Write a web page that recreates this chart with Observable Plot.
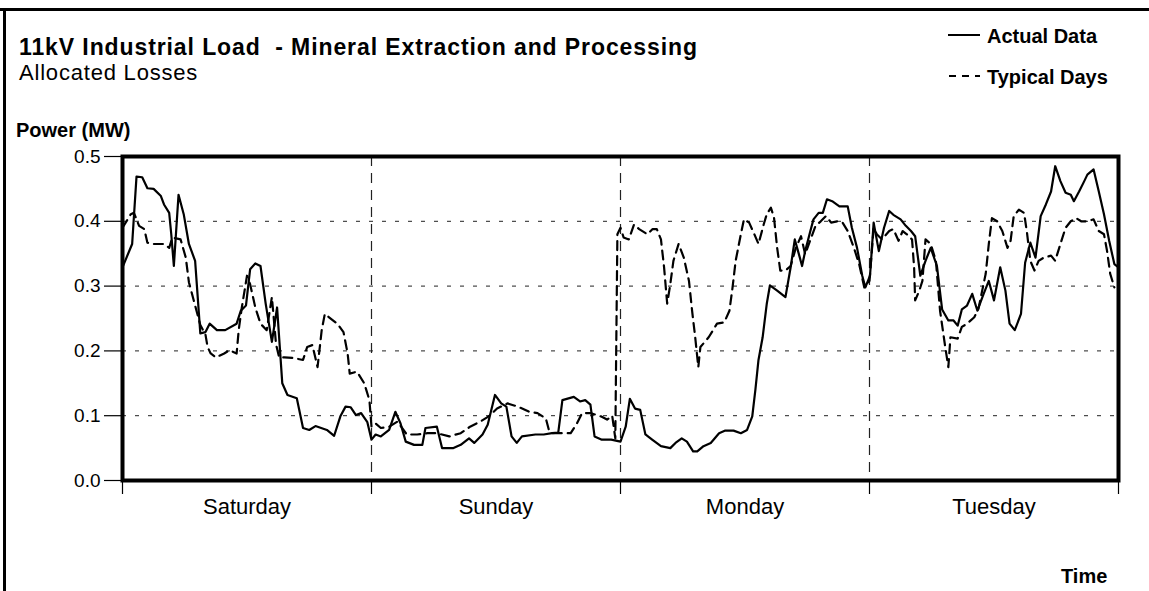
<!DOCTYPE html>
<html>
<head>
<meta charset="utf-8">
<script src="https://cdn.jsdelivr.net/npm/d3@7"></script>
<script src="https://cdn.jsdelivr.net/npm/@observablehq/plot@0.6"></script>
<style>
  body { margin: 0; background: #fff; }
  #wrap { position: relative; width: 1149px; height: 591px; background: #fff; overflow: hidden;
          font-family: "Liberation Sans", Arial, Helvetica, sans-serif; color: #000; }
  .t { position: absolute; white-space: pre; line-height: 1; }
  #chart { position: absolute; left: 0; top: 0; }
</style>
</head>
<body>
<div id="wrap">
  <div id="chart"></div>
  <div style="position:absolute;left:0;top:8px;width:1149px;height:3px;background:#000"></div>
  <div style="position:absolute;left:3px;top:8px;width:3px;height:583px;background:#000"></div>
  <div class="t" style="left:19px;top:36px;font-size:23px;font-weight:bold;letter-spacing:0.9px">11kV Industrial Load  - Mineral Extraction and Processing</div>
  <div class="t" style="left:19px;top:62px;font-size:22px;letter-spacing:0.8px">Allocated Losses</div>
  <div class="t" style="left:16px;top:120px;font-size:20px;font-weight:bold;">Power (MW)</div>
  <svg style="position:absolute;left:940px;top:20px" width="50" height="70">
    <line x1="8" x2="40" y1="15" y2="15" stroke="#000" stroke-width="2"/>
    <line x1="9" x2="40" y1="56" y2="56" stroke="#000" stroke-width="2" stroke-dasharray="7,6"/>
  </svg>
  <div class="t" style="left:987px;top:26px;font-size:20px;font-weight:bold;">Actual Data</div>
  <div class="t" style="left:987px;top:67px;font-size:20px;font-weight:bold;">Typical Days</div>
  <div class="t" style="left:1061px;top:566px;font-size:20px;font-weight:bold;">Time</div>
</div>
<script>
// Hours from Saturday 00:00
const actualHours = [0,0.93,1.35,1.9,2.4,3.0,3.7,4.0,4.5,4.7,4.95,5.4,5.9,6.4,7.0,7.5,8.0,8.4,9.1,9.9,11.0,11.4,11.9,12.3,12.8,13.3,13.8,14.4,14.9,15.4,15.9,16.8,17.4,18.0,18.6,19.7,20.4,21.0,21.5,22.0,22.5,23.0,23.6,24.0,24.4,24.9,25.7,26.3,26.8,27.3,28.1,28.9,29.2,30.3,30.8,31.9,32.6,33.4,33.9,34.7,35.2,35.9,36.5,37.0,37.5,38.0,38.5,39.8,40.6,41.4,42.0,42.4,43.5,44.1,44.6,45.1,45.5,46.2,47.1,48.0,48.5,48.9,49.4,49.9,50.4,51.05,51.9,52.8,53.3,53.9,54.4,55.0,55.4,56.0,56.7,57.5,58.1,58.9,59.6,60.2,60.7,61.0,61.3,61.7,62.1,62.4,63.1,63.9,64.4,64.8,65.2,65.5,65.8,66.3,66.6,67.1,67.5,67.9,68.4,69.1,69.9,70.3,70.8,71.3,71.6,72.05,72.4,72.9,73.4,73.9,74.3,75.0,75.5,76.0,76.4,76.9,77.4,77.9,78.5,79.0,79.6,80.1,80.5,80.9,81.4,81.9,82.4,83.0,83.5,84.0,84.6,85.1,85.5,86.0,86.6,87.0,87.5,88.0,88.5,89.0,89.5,89.9,90.4,90.9,91.4,91.7,92.2,92.7,93.0,93.6,94.1,94.6,95.1,95.6,96.0];
const actualMW = [0.329,0.365,0.469,0.468,0.451,0.450,0.439,0.426,0.413,0.38,0.331,0.441,0.411,0.365,0.339,0.227,0.229,0.242,0.232,0.232,0.242,0.262,0.270,0.326,0.335,0.331,0.273,0.214,0.267,0.150,0.132,0.127,0.081,0.078,0.084,0.078,0.069,0.099,0.114,0.113,0.101,0.104,0.090,0.063,0.071,0.068,0.078,0.106,0.088,0.060,0.055,0.055,0.081,0.083,0.050,0.050,0.055,0.065,0.058,0.071,0.086,0.132,0.119,0.114,0.068,0.058,0.068,0.071,0.071,0.073,0.074,0.124,0.129,0.122,0.124,0.117,0.068,0.063,0.063,0.060,0.083,0.126,0.111,0.109,0.071,0.063,0.053,0.050,0.058,0.065,0.060,0.045,0.045,0.053,0.058,0.073,0.077,0.077,0.073,0.078,0.099,0.140,0.186,0.221,0.273,0.301,0.293,0.283,0.329,0.372,0.349,0.331,0.354,0.385,0.403,0.413,0.413,0.434,0.431,0.423,0.423,0.390,0.359,0.316,0.298,0.316,0.398,0.354,0.390,0.416,0.410,0.403,0.393,0.385,0.377,0.316,0.339,0.359,0.331,0.264,0.247,0.247,0.239,0.264,0.270,0.288,0.262,0.288,0.308,0.278,0.329,0.293,0.242,0.232,0.257,0.336,0.367,0.344,0.408,0.426,0.446,0.485,0.462,0.444,0.441,0.431,0.446,0.462,0.472,0.480,0.446,0.411,0.370,0.334,0.329];

const typicalHours = [0,0.8,1.1,1.6,2.1,2.4,3.0,4.0,4.5,4.8,5.6,6.1,6.4,7.5,8.0,8.2,8.5,9.0,9.8,10.3,11.0,11.2,11.5,12.0,12.3,12.8,13.3,13.9,14.4,14.8,15.1,15.6,16.5,17.4,17.8,18.3,18.8,19.2,19.5,20.7,21.3,21.7,21.9,22.6,23.3,23.8,24.0,24.4,24.9,25.7,26.5,27.4,28.4,29.4,30.3,31.5,32.6,33.5,34.5,35.3,36.1,37.1,38.1,39.2,40.0,40.8,41.1,41.4,42.2,43.2,43.8,44.3,45.1,46.1,46.7,47.2,47.5,47.7,48.0,48.3,48.8,49.3,49.8,50.6,51.1,51.5,51.9,52.2,52.5,52.8,53.1,53.6,54.1,54.6,54.9,55.2,55.5,55.7,56.5,57.3,58.0,58.5,58.8,59.1,59.6,59.9,60.4,60.9,61.3,61.8,62.1,62.5,62.8,63.1,63.4,63.9,64.4,64.9,65.4,65.8,66.5,66.8,67.3,67.8,68.3,68.9,69.4,69.9,70.5,71.0,71.5,72.0,72.4,72.7,73.2,73.9,74.3,74.8,75.2,75.6,76.1,76.3,76.4,76.8,77.1,77.4,77.9,78.4,78.8,79.3,79.6,79.8,80.5,80.9,81.4,82.1,82.5,83.2,83.5,83.8,84.3,84.8,85.3,85.6,85.9,86.4,86.9,87.2,87.5,87.9,88.3,88.8,89.5,89.9,90.4,90.9,91.4,91.9,92.4,93.0,93.6,94.1,94.6,94.9,95.2,95.6];
const typicalMW = [0.390,0.411,0.413,0.393,0.388,0.367,0.365,0.365,0.359,0.375,0.372,0.344,0.306,0.240,0.225,0.206,0.196,0.190,0.196,0.201,0.196,0.232,0.267,0.316,0.303,0.267,0.242,0.232,0.283,0.210,0.190,0.190,0.189,0.186,0.206,0.209,0.175,0.232,0.257,0.242,0.229,0.196,0.165,0.168,0.150,0.124,0.083,0.088,0.081,0.083,0.091,0.071,0.071,0.073,0.073,0.068,0.073,0.083,0.091,0.099,0.111,0.119,0.114,0.106,0.104,0.096,0.078,0.073,0.073,0.073,0.088,0.104,0.104,0.099,0.094,0.100,0.065,0.380,0.390,0.375,0.372,0.395,0.388,0.380,0.388,0.388,0.372,0.329,0.273,0.303,0.339,0.365,0.344,0.308,0.262,0.221,0.175,0.206,0.221,0.242,0.244,0.262,0.298,0.339,0.380,0.403,0.398,0.380,0.365,0.395,0.411,0.421,0.405,0.359,0.324,0.324,0.331,0.359,0.377,0.349,0.380,0.393,0.400,0.408,0.398,0.400,0.398,0.385,0.359,0.334,0.298,0.308,0.390,0.380,0.372,0.385,0.388,0.370,0.385,0.380,0.372,0.329,0.278,0.293,0.308,0.372,0.365,0.339,0.262,0.206,0.175,0.221,0.219,0.237,0.242,0.252,0.265,0.319,0.365,0.405,0.400,0.385,0.359,0.370,0.408,0.418,0.413,0.380,0.339,0.324,0.339,0.344,0.347,0.339,0.365,0.390,0.400,0.405,0.400,0.400,0.403,0.385,0.380,0.354,0.319,0.298];

const days = ["Saturday", "Sunday", "Monday", "Tuesday"];
const dayStarts = [0, 24, 48, 72, 96];
const dayMids = [12, 36, 60, 84];
const yTicks = [0, 0.1, 0.2, 0.3, 0.4, 0.5];
const gridValues = [0.1, 0.2, 0.3, 0.4];
const dayBoundaries = [24, 48, 72];

const actual = actualHours.map((t, i) => ({t, v: actualMW[i]}));
const typical = typicalHours.map((t, i) => ({t, v: typicalMW[i]}));

const chart = Plot.plot({
  width: 1149,
  height: 591,
  marginLeft: 122,
  marginRight: 31,
  marginTop: 156,
  marginBottom: 111,
  style: {fontFamily: '"Liberation Sans", Arial, Helvetica, sans-serif', color: "#000", background: "transparent", overflow: "visible"},
  x: {domain: [0, 96]},
  y: {domain: [0, 0.5]},
  marks: [
    Plot.ruleY(gridValues, {stroke: "#222", strokeWidth: 1, strokeDasharray: "4,9"}),
    Plot.ruleX(dayBoundaries, {stroke: "#222", strokeWidth: 1.2, strokeDasharray: "10,7"}),
    Plot.axisY(yTicks, {tickSize: 18, tickPadding: 4, tickFormat: ".1f", fontSize: 19, label: null, strokeWidth: 1.2}),
    Plot.axisX(dayStarts, {tickSize: 14, tickFormat: () => "", label: null, strokeWidth: 1.2}),
    Plot.axisX(dayMids, {tickSize: 0, tickPadding: 18, tickFormat: d => days[Math.floor(d / 24)], fontSize: 22, label: null}),
    Plot.line(typical, {x: "t", y: "v", stroke: "#000", strokeWidth: 2.2, strokeDasharray: "9,6", curve: "linear"}),
    Plot.line(actual, {x: "t", y: "v", stroke: "#000", strokeWidth: 2.2, curve: "linear"}),
    Plot.frame({stroke: "#000", strokeWidth: 4})
  ]
});
document.getElementById("chart").appendChild(chart);
</script>
</body>
</html>
